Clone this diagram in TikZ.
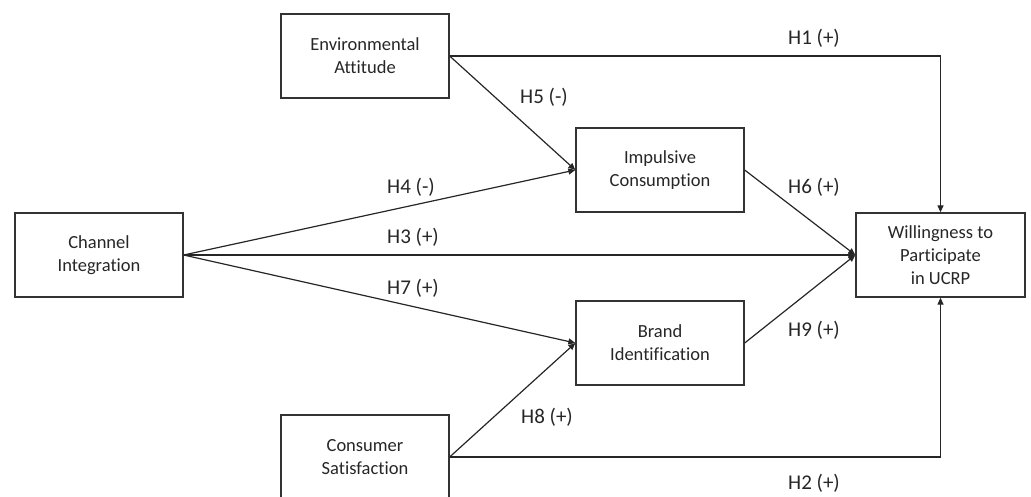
\documentclass[tikz,border=0pt]{standalone}
\usepackage{fontspec}
\setmainfont{Carlito}[Ligatures=NoCommon]
\usetikzlibrary{arrows.meta}
\begin{document}
\begin{tikzpicture}[x=1pt,y=-1pt,
  box/.style={draw=black!80, line width=1.3pt, minimum width=168pt, minimum height=84pt, inner sep=0pt, align=center, font=\fontsize{18.5}{23}\selectfont, text=black!85},
  lab/.style={font=\fontsize{21}{25}\selectfont, text=black!85},
  conn/.style={line width=1.2pt, draw=black!85, -{Triangle[length=7pt,width=6pt]}}]
\useasboundingbox (0,0) rectangle (1031,496);
\node[box] (ea) at (365,56) {Environmental\\Attitude};
\node[box] (imp) at (660,170) {Impulsive\\Consumption};
\node[box] (ci) at (99,255) {Channel\\Integration};
\node[box] (bi) at (660,343) {Brand\\Identification};
\node[box] (cs) at (365,457) {Consumer\\Satisfaction};
\node[box, minimum width=169pt] (wtp) at (940.5,255) {Willingness to\\Participate\\in UCRP};
\draw[conn] (ea.east) -| (wtp.north);
\draw[conn] (ea.east) -- (imp.west);
\draw[conn] (ci.east) -- (imp.west);
\draw[conn] (ci.east) -- (wtp.west);
\draw[conn] (ci.east) -- (bi.west);
\draw[conn] (imp.east) -- (wtp.west);
\draw[conn] (bi.east) -- (wtp.west);
\draw[conn] (cs.east) -- (bi.west);
\draw[conn] (cs.east) -| (wtp.south);
\node[lab] (h1) at (814,38) {H1 (+)};
\node[lab] (h5) at (544,97) {H5 (-)};
\node[lab] (h4) at (411,187) {H4 (-)};
\node[lab] (h3) at (413,237) {H3 (+)};
\node[lab] (h7) at (413,288) {H7 (+)};
\node[lab] (h6) at (814,187) {H6 (+)};
\node[lab] (h9) at (814,330) {H9 (+)};
\node[lab] (h8) at (547,417) {H8 (+)};
\node[lab] (h2) at (814,483) {H2 (+)};
\end{tikzpicture}
\end{document}
